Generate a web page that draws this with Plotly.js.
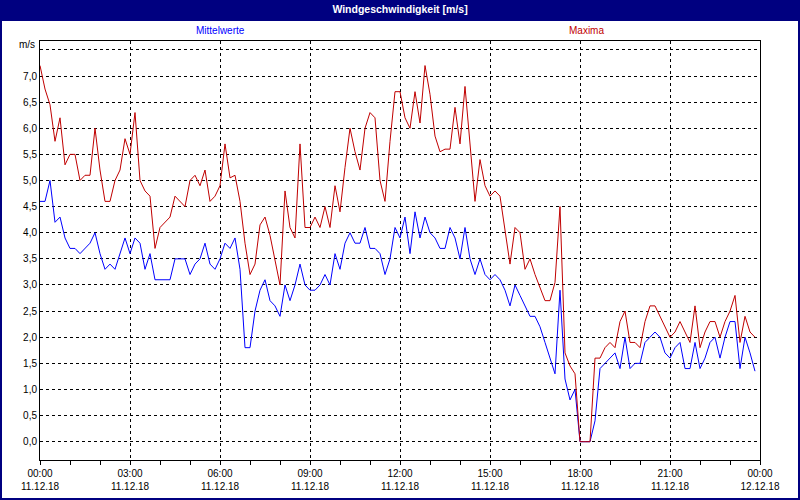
<!DOCTYPE html>
<html>
<head>
<meta charset="utf-8">
<script src="https://cdn.plot.ly/plotly-3.0.1.min.js"></script>
<style>
  body { margin: 0; padding: 0; background: #ffffff; }
  #plot1 { width: 800px; height: 500px; }
</style>
</head>
<body>
<div id="plot1"></div>
<script>
  // 10-minute values, 11.12.18 00:00 .. 23:50
  var startTime = "2018-12-11 00:00";
  var stepMinutes = 10;

  var mittelwerte = [
    4.6, 4.6, 5.0, 4.2, 4.3, 3.9, 3.7, 3.7, 3.6, 3.7,
    3.8, 4.0, 3.6, 3.3, 3.4, 3.3, 3.6, 3.9, 3.6, 3.9,
    3.8, 3.3, 3.6, 3.1, 3.1, 3.1, 3.1, 3.5, 3.5, 3.5,
    3.2, 3.4, 3.5, 3.8, 3.4, 3.3, 3.5, 3.8, 3.7, 3.9,
    3.3, 1.8, 1.8, 2.5, 2.9, 3.1, 2.7, 2.6, 2.4, 3.0,
    2.7, 3.0, 3.4, 3.0, 2.9, 2.9, 3.0, 3.2, 3.0, 3.6,
    3.3, 3.8, 4.0, 3.8, 3.8, 4.1, 3.7, 3.7, 3.6, 3.2,
    3.5, 4.1, 3.9, 4.3, 3.6, 4.4, 3.9, 4.3, 4.0, 3.9,
    3.7, 3.7, 4.1, 3.9, 3.5, 4.1, 3.5, 3.2, 3.5, 3.2,
    3.1, 3.2, 3.1, 2.9, 2.6, 3.0, 2.8, 2.6, 2.4, 2.4,
    2.2, 1.9, 1.6, 1.3, 2.9, 1.2, 0.8, 1.0, 0.0, 0.0,
    0.0, 0.4, 1.4, 1.5, 1.6, 1.7, 1.4, 2.0, 1.4, 1.5,
    1.5, 1.9, 2.0, 2.1, 2.0, 1.7, 1.6, 1.8, 1.9, 1.4,
    1.4, 1.9, 1.4, 1.6, 1.9, 2.0, 1.6, 2.0, 2.3, 2.3,
    1.4, 2.0, 1.7, 1.35
  ];

  var maxima = [
    7.2, 6.75, 6.45, 5.75, 6.2, 5.3, 5.5, 5.5, 5.0, 5.1,
    5.1, 6.0, 5.2, 4.6, 4.6, 5.0, 5.2, 5.8, 5.5, 6.3,
    5.0, 4.8, 4.7, 3.7, 4.1, 4.2, 4.3, 4.7, 4.6, 4.5,
    5.0, 5.1, 4.9, 5.2, 4.6, 4.7, 4.9, 5.7, 5.05, 5.1,
    4.6, 3.8, 3.2, 3.4, 4.15, 4.3, 3.95, 3.5, 3.0, 4.8,
    4.1, 3.9, 5.7, 4.1, 4.1, 4.3, 4.1, 4.5, 4.1, 4.9,
    4.4, 5.25, 6.0, 5.55, 5.2, 6.0, 6.3, 6.2, 5.0, 4.6,
    5.75, 6.7, 6.7, 6.2, 6.0, 6.7, 6.1, 7.2, 6.65, 5.85,
    5.55, 5.6, 5.6, 6.4, 5.7, 6.8, 5.7, 4.6, 5.4, 4.9,
    4.7, 4.8, 4.7, 4.0, 3.4, 4.1, 4.0, 3.3, 3.5, 3.2,
    2.95, 2.7, 2.7, 3.05, 4.5, 1.7, 1.45, 1.3, 0.0, 0.0,
    0.0, 1.6, 1.6, 1.8, 1.9, 1.8, 2.3, 2.5, 1.9, 1.9,
    1.8, 2.3, 2.6, 2.6, 2.4, 2.2, 2.0, 2.1, 2.3, 2.1,
    1.9, 2.6, 1.8, 2.1, 2.3, 2.3, 2.0, 2.3, 2.5, 2.8,
    1.9, 2.4, 2.1, 2.0
  ];

  var xTickVals = ["2018-12-11 00:00", "2018-12-11 03:00", "2018-12-11 06:00", "2018-12-11 09:00",
                   "2018-12-11 12:00", "2018-12-11 15:00", "2018-12-11 18:00", "2018-12-11 21:00",
                   "2018-12-12 00:00"];
  var xTickText = ["00:00<br>11.12.18", "03:00<br>11.12.18", "06:00<br>11.12.18", "09:00<br>11.12.18",
                   "12:00<br>11.12.18", "15:00<br>11.12.18", "18:00<br>11.12.18", "21:00<br>11.12.18",
                   "00:00<br>12.12.18"];
  var yTickVals = [0, 0.5, 1, 1.5, 2, 2.5, 3, 3.5, 4, 4.5, 5, 5.5, 6, 6.5, 7, 7.5];
  var yTickText = ["0,0", "0,5", "1,0", "1,5", "2,0", "2,5", "3,0", "3,5",
                   "4,0", "4,5", "5,0", "5,5", "6,0", "6,5", "7,0", ""];

  var navy = "#000080";
  var fontName = "Liberation Sans, Arial, sans-serif";

  function timeStamps(n) {
    var t0 = new Date(startTime.replace(" ", "T") + ":00Z").getTime();
    var ts = [];
    for (var i = 0; i < n; i += 1) {
      var d = new Date(t0 + i * stepMinutes * 60000);
      ts.push(d.toISOString().slice(0, 16).replace("T", " "));
    }
    return ts;
  }

  function Plot() {
    var ts = timeStamps(maxima.length);

    var trace1 = {
      x: ts,
      y: mittelwerte,
      mode: "lines",
      name: "Mittelwerte",
      line: { color: "#0000FF", width: 1 }
    };
    var trace2 = {
      x: ts,
      y: maxima,
      mode: "lines",
      name: "Maxima",
      line: { color: "#C00000", width: 1 }
    };

    var layout1 = {
      width: 800,
      height: 500,
      margin: { l: 40, r: 40, t: 41, b: 40, pad: 0 },
      paper_bgcolor: "#ffffff",
      plot_bgcolor: "#ffffff",
      showlegend: false,
      font: { family: fontName, size: 10, color: "#000000" },
      title: {
        text: "<b>Windgeschwindigkeit [m/s]</b>",
        font: { family: fontName, size: 10.5, color: "#ffffff" },
        x: 0.5, xanchor: "center",
        y: 0.981, yanchor: "middle"
      },
      xaxis: {
        type: "date",
        range: ["2018-12-11 00:00", "2018-12-12 00:00"],
        tickmode: "array",
        tickvals: xTickVals,
        ticktext: xTickText,
        ticks: "outside",
        ticklen: 4,
        tickcolor: "#000000",
        showline: true,
        linecolor: "#000000",
        linewidth: 1,
        mirror: true,
        showgrid: true,
        gridcolor: "#000000",
        gridwidth: 1,
        griddash: "3px,3px",
        zeroline: false,
        minor: { dtick: 3600000, ticks: "outside", ticklen: 4, tickcolor: "#000000", showgrid: false },
        tickfont: { family: fontName, size: 10, color: "#000000" }
      },
      yaxis: {
        range: [-0.35, 7.67],
        tickmode: "array",
        tickvals: yTickVals,
        ticktext: yTickText,
        ticks: "",
        showline: true,
        linecolor: "#000000",
        linewidth: 1,
        mirror: true,
        showgrid: true,
        gridcolor: "#000000",
        gridwidth: 1,
        griddash: "3px,3px",
        zeroline: false,
        tickfont: { family: fontName, size: 10, color: "#000000" }
      },
      shapes: [
        // title bar
        { type: "rect", xref: "paper", yref: "paper",
          x0: -0.05556, x1: 1.05556, y0: 1.0477, y1: 1.0979,
          fillcolor: navy, line: { width: 0 }, layer: "below" },
        // outer frame
        { type: "rect", xref: "paper", yref: "paper",
          x0: -0.05556, x1: 1.05556, y0: -0.0955, y1: 1.0979,
          fillcolor: "rgba(0,0,0,0)", line: { color: navy, width: 4 }, layer: "above" }
      ],
      annotations: [
        { text: "Mittelwerte", xref: "paper", yref: "paper", x: 0.25, y: 1.0239,
          xanchor: "center", yanchor: "middle", showarrow: false,
          font: { family: fontName, size: 10, color: "#0000FF" } },
        { text: "Maxima", xref: "paper", yref: "paper", x: 0.7597, y: 1.0239,
          xanchor: "center", yanchor: "middle", showarrow: false,
          font: { family: fontName, size: 10, color: "#C00000" } },
        { text: "m/s", xref: "paper", yref: "paper", x: -0.004, y: 0.9905,
          xanchor: "right", yanchor: "middle", showarrow: false,
          font: { family: fontName, size: 10, color: "#000000" } }
      ]
    };

    Plotly.newPlot("plot1", [trace1, trace2], layout1, { displayModeBar: false, staticPlot: true });
  }

  Plot();
</script>
</body>
</html>
